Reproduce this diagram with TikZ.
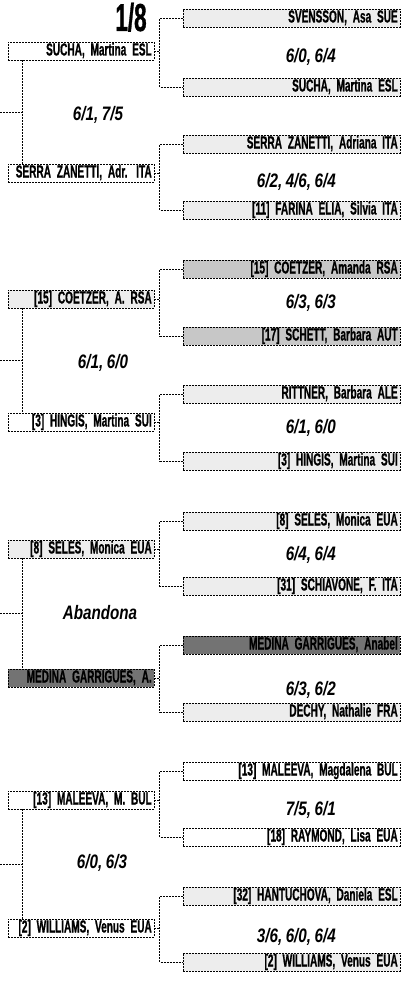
\documentclass[tikz,border=0pt]{standalone}
\usepackage{fontspec}
\usepackage{tikz}
\usetikzlibrary{positioning,calc}
\newfontfamily\namefont{Liberation Sans}[UprightFont=* Bold, FakeStretch=0.575, FakeBold=0.8]
\newfontfamily\scorefont{Liberation Sans}[UprightFont=* Bold Italic, FakeStretch=0.78]
\newcommand\namestyle{\namefont\fontsize{17.5}{17.5}\selectfont\spaceskip=2.2pt\xspaceskip=2.2pt\relax}
\newcommand\scorestyle{\scorefont\fontsize{19.5}{19.5}\selectfont\spaceskip=3.5pt\xspaceskip=3.5pt\relax}
\colorlet{lightgray}{black!7}
\colorlet{midgray}{black!22}
\colorlet{darkgray}{black!55}

\begin{document}
\begin{tikzpicture}[x=1pt,y=-1pt,
    box/.style={draw, dash pattern=on 2pt off 1pt, line width=0.5pt, inner xsep=2pt, inner ysep=0pt,
      minimum height=18pt, text height=12.5pt, text depth=3.5pt, align=right, anchor=east,
      font=\namestyle},
    rbox/.style={box, text width=213pt},
    lbox/.style={box, text width=142pt},
    link/.style={dash pattern=on 2pt off 1pt, line width=0.5pt},
    score/.style={font=\scorestyle, inner sep=0pt}]

\useasboundingbox (0,0) rectangle (415,982);

\node[font=\namefont\fontsize{39}{39}\selectfont, inner sep=0pt, anchor=base] (H) at (131,31) {1/8};

% third round
\node[rbox, fill=lightgray] (R1)  at (400,18)  {SVENSSON, Asa SUE};
\node[rbox, fill=lightgray] (R2)  at (400,87)  {SUCHA, Martina ESL};
\node[rbox, fill=lightgray] (R3)  at (400,144) {SERRA ZANETTI, Adriana ITA};
\node[rbox, fill=lightgray] (R4)  at (400,210) {[11] FARINA ELIA, Silvia ITA};
\node[rbox, fill=midgray]   (R5)  at (400,269) {[15] COETZER, Amanda RSA};
\node[rbox, fill=midgray]   (R6)  at (400,336) {[17] SCHETT, Barbara AUT};
\node[rbox, fill=lightgray] (R7)  at (400,394) {RITTNER, Barbara ALE};
\node[rbox, fill=lightgray] (R8)  at (400,461) {[3] HINGIS, Martina SUI};
\node[rbox, fill=lightgray] (R9)  at (400,521) {[8] SELES, Monica EUA};
\node[rbox, fill=lightgray] (R10) at (400,586) {[31] SCHIAVONE, F. ITA};
\node[rbox, fill=darkgray]  (R11) at (400,645) {MEDINA GARRIGUES, Anabel};
\node[rbox, fill=lightgray] (R12) at (400,712) {DECHY, Nathalie FRA};
\node[rbox]                 (R13) at (400,771) {[13] MALEEVA, Magdalena BUL};
\node[rbox]                 (R14) at (400,837) {[18] RAYMOND, Lisa EUA};
\node[rbox, fill=lightgray] (R15) at (400,896) {[32] HANTUCHOVA, Daniela ESL};
\node[rbox, fill=lightgray] (R16) at (400,962) {[2] WILLIAMS, Venus EUA};

% round of 16
\node[lbox]                 (L1) at (154,51)  {SUCHA, Martina ESL};
\node[lbox]                 (L2) at (154,173) {SERRA ZANETTI, Adr. ITA};
\node[lbox, fill=lightgray] (L3) at (154,299) {[15] COETZER, A. RSA};
\node[lbox]                 (L4) at (154,422) {[3] HINGIS, Martina SUI};
\node[lbox, fill=lightgray] (L5) at (154,549) {[8] SELES, Monica EUA};
\node[lbox, fill=darkgray]  (L6) at (154,678) {MEDINA GARRIGUES, A.};
\node[lbox]                 (L7) at (154,800) {[13] MALEEVA, M. BUL};
\node[lbox]                 (L8) at (154,928) {[2] WILLIAMS, Venus EUA};

% scores
\node[score, anchor=east] (S1) at (336,57)  {6/0, 6/4};
\node[score, anchor=east] (S2) at (336,182) {6/2, 4/6, 6/4};
\node[score, anchor=east] (S3) at (336,303) {6/3, 6/3};
\node[score, anchor=east] (S4) at (336,428) {6/1, 6/0};
\node[score, anchor=east] (S5) at (336,555) {6/4, 6/4};
\node[score, anchor=east] (S6) at (336,690) {6/3, 6/2};
\node[score, anchor=east] (S7) at (336,810) {7/5, 6/1};
\node[score, anchor=east] (S8) at (336,937) {3/6, 6/0, 6/4};

\node[score] (T1) at (98,115) {6/1, 7/5};
\node[score] (T2) at (103,363) {6/1, 6/0};
\node[score] (T3) at (100,613) {Abandona};
\node[score] (T4) at (102,863) {6/0, 6/3};

% brackets
\foreach \a/\b/\c in {R1/R2/L1, R3/R4/L2, R5/R6/L3, R7/R8/L4, R9/R10/L5, R11/R12/L6, R13/R14/L7, R15/R16/L8} {
  \draw[link] (\a.west) -- ++(-23,0) |- (\b.west);
  \draw[link] (\c.east) -- ++(6,0);
}
\foreach \a/\b in {L1/L2, L3/L4, L5/L6, L7/L8} {
  \draw[link] ([xshift=15]\a.south west) -- ([xshift=15]\b.north west);
  \coordinate (J\a) at ($([xshift=15]\a.south west)!0.5!([xshift=15]\b.north west)$);
  \draw[link] (J\a) -- ++(-23,0);
}

\end{tikzpicture}
\end{document}
